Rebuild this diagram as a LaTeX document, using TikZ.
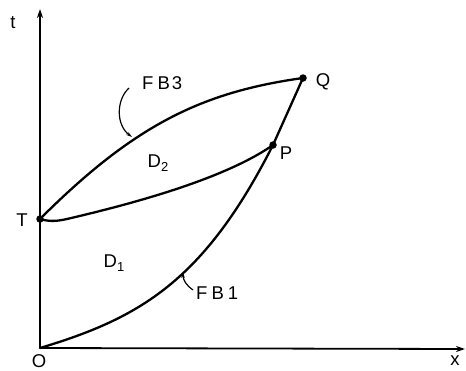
\documentclass[tikz,border=0pt]{standalone}
\usepackage{fontspec}
\setmainfont{Liberation Sans}
\usetikzlibrary{arrows.meta}
\begin{document}
\begin{tikzpicture}[x=1pt,y=-1pt,
  axis/.style={line width=1.8pt,-{Stealth[length=9pt,width=6pt]}},
  curve/.style={line width=2.3pt,line cap=round,line join=round},
  leader/.style={line width=1.2pt,-{Stealth[length=6pt,width=3.5pt]}},
  dot/.style={circle,fill=black,inner sep=0pt,minimum size=7.5pt},
  lbl/.style={font=\fontsize{18.5}{20}\selectfont,inner sep=0pt}]
\useasboundingbox (0,0) rectangle (466,370);
% axes
\coordinate (O) at (40,348);
\coordinate (ytip) at (40,9);
\coordinate (xtip) at (465,349);
\draw[axis] (O) -- (ytip);
\draw[axis] (O) -- (xtip);
% points
\node[dot] (T) at (40,219) {};
\node[dot] (P) at (273,145) {};
\node[dot] (Q) at (303,78) {};
% curves
\draw[curve] (O) .. controls (140,318) and (204,281) .. (P.center);
\coordinate (m1) at (67,219);
\draw[curve] (T.center) .. controls (50,222) and (58,221) .. (m1)
  .. controls (127,205) and (223,180) .. (P.center);
\draw[curve] (T.center) .. controls (135,124) and (203,92) .. (Q.center);
\draw[curve] (P.center) -- (Q.center);
% labels
\node[lbl] (tl) at (13,23) {t};
\node[lbl] (Ol) at (39,361) {O};
\node[lbl] (xl) at (455,361) {x};
\node[lbl] (Tl) at (22,220) {T};
\node[lbl] (Pl) at (286,153) {P};
\node[lbl] (Ql) at (323,82) {Q};
\node[lbl] (D2) at (158,163) {D\raisebox{-4pt}{\fontsize{13}{13}\selectfont 2}};
\node[lbl] (D1) at (114,263) {D\raisebox{-4pt}{\fontsize{13}{13}\selectfont 1}};
\node[lbl,anchor=west] (FB3) at (142,83) {F\hspace{4pt}B\hspace{2pt}3};
\node[lbl,anchor=west] (FB1) at (196,293) {F\hspace{4pt}B\hspace{4pt}1};
% leaders
\coordinate (f3a) at (129,88);
\coordinate (f3b) at (132,137);
\draw[leader] (f3a) .. controls (116,100) and (116,125) .. (f3b);
\coordinate (f1a) at (193,290);
\coordinate (f1b) at (183,272);
\draw[leader] (f1a) .. controls (186,285) and (183,280) .. (f1b);
\end{tikzpicture}
\end{document}
